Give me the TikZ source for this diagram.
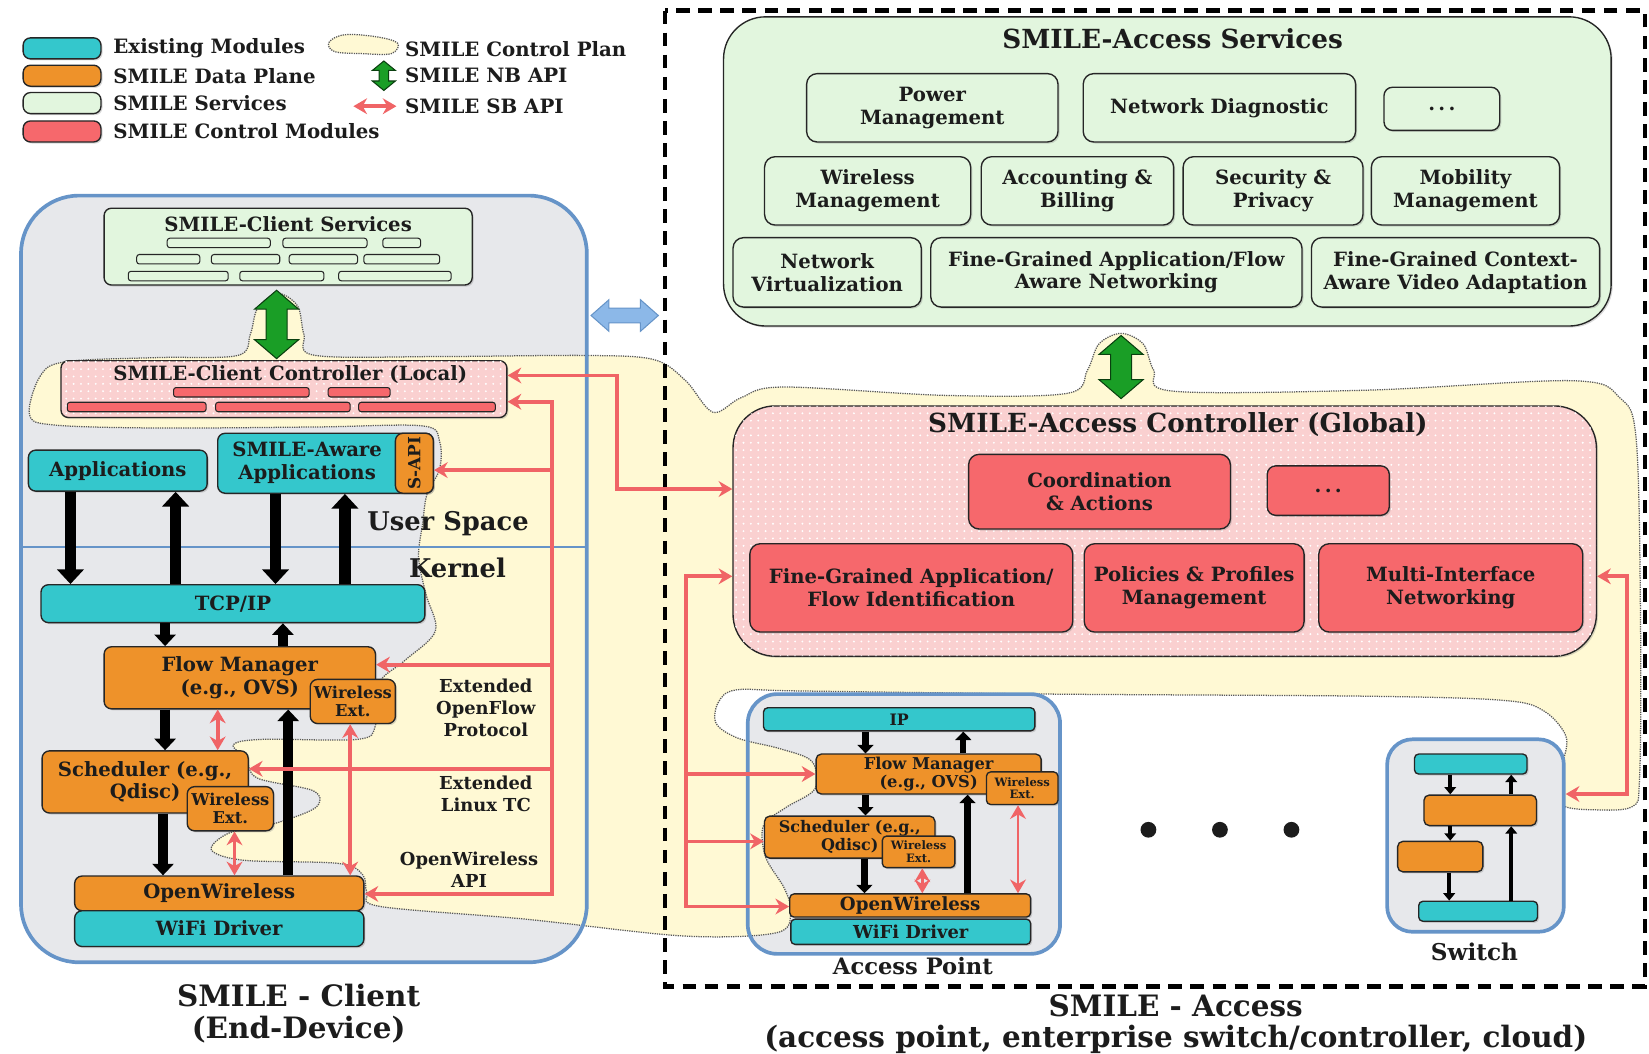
\documentclass[tikz,border=0pt]{standalone}
\usepackage{fontspec}
\setmainfont{DejaVu Serif}
\usetikzlibrary{arrows.meta, positioning, shadows, patterns.meta}
\definecolor{modcyan}{RGB}{52,199,204}
\definecolor{modorange}{RGB}{238,146,42}
\definecolor{svcgreen}{RGB}{226,246,222}
\definecolor{ctlred}{RGB}{246,104,108}
\definecolor{ctlpink}{RGB}{250,208,208}
\definecolor{planeyellow}{RGB}{255,249,212}
\definecolor{devgray}{RGB}{231,232,235}
\definecolor{frameblue}{RGB}{102,148,200}
\definecolor{sbred}{RGB}{240,100,102}
\definecolor{nbgreen}{RGB}{26,158,38}
\definecolor{linkblue}{RGB}{140,184,232}
\definecolor{ink}{RGB}{28,28,28}

\newcommand{\fnt}[2]{\bfseries\fontsize{#1}{#2}\selectfont}
% vertical block double arrow: x, top, bottom, half shaft, half head, head length
\newcommand{\nbarrow}[6]{%
  \filldraw[nbapi] (#1,#2) -- ({#1+#5},{#2+#6}) -- ({#1+#4},{#2+#6}) -- ({#1+#4},{#3-#6})
    -- ({#1+#5},{#3-#6}) -- (#1,#3) -- ({#1-#5},{#3-#6}) -- ({#1-#4},{#3-#6})
    -- ({#1-#4},{#2+#6}) -- ({#1-#5},{#2+#6}) -- cycle;}
% horizontal block double arrow: left, y, right, half shaft, half head, head length
\newcommand{\linkarrow}[6]{%
  \filldraw[linkarr] (#1,#2) -- ({#1+#6},{#2-#5}) -- ({#1+#6},{#2-#4}) -- ({#3-#6},{#2-#4})
    -- ({#3-#6},{#2-#5}) -- (#3,#2) -- ({#3-#6},{#2+#5}) -- ({#3-#6},{#2+#4})
    -- ({#1+#6},{#2+#4}) -- ({#1+#6},{#2+#5}) -- cycle;}

\begin{document}
\begin{tikzpicture}[x=1pt, y=-1pt,
    box/.style={draw=black!85, line width=1.3pt, rounded corners=7pt, inner sep=0pt, align=center, text=ink,
      font=\fnt{18.7}{21.5}, drop shadow={shadow xshift=1.5pt, shadow yshift=-1.5pt, opacity=0.3}},
    existing/.style={box, fill=modcyan},
    dataplane/.style={box, fill=modorange},
    service/.style={box, fill=svcgreen},
    control/.style={box, fill=ctlred},
    ctlplane/.style={box, fill=ctlpink, postaction={pattern={Dots[distance=7pt, radius=1pt]}, pattern color=white}},
    contbox/.style={draw=frameblue, line width=3.5pt, fill=devgray},
    svcbar/.style={draw=black!85, line width=1pt, fill=svcgreen, rounded corners=2.5pt},
    ctlbar/.style={draw=black!85, line width=1pt, fill=ctlred, rounded corners=2.5pt},
    ctlblob/.style={fill=planeyellow, draw=black!65, line width=1.2pt, densely dotted},
    lbl/.style={font=\fnt{18.7}{21.5}, align=center, text=ink, inner sep=0pt},
    sbapi/.style={draw=sbred, line width=3.5pt, >={Stealth[length=13pt, width=15pt]}},
    nbapi/.style={draw=black!60!nbgreen, line width=1pt, fill=nbgreen},
    linkarr/.style={draw=frameblue, line width=1pt, fill=linkblue},
    flowL/.style={draw=black, line width=11pt, -{Triangle[width=25pt, length=14pt]}},
    flowM/.style={draw=black, line width=9pt, -{Triangle[width=20pt, length=11pt]}},
    flowS/.style={draw=black, line width=6pt, -{Triangle[width=15pt, length=8pt]}},
    flowXS/.style={draw=black, line width=4pt, -{Triangle[width=11pt, length=7pt]}}]

\useasboundingbox (0,0) rectangle (1568,1002);

% device containers (fill first, the control plane lies on top)
\fill[devgray, rounded corners=55pt] (20,186) rectangle (558,915);
\fill[devgray, rounded corners=28pt] (711,660) rectangle (1008,907);

% SMILE control plane
\draw[ctlblob] plot[smooth cycle, tension=0.55] coordinates {
  (28,394) (38,358) (62,344) (150,340) (226,338) (238,318) (245,293) (264,279) (283,291)
  (289,318) (300,338) (420,339) (560,338) (622,342) (652,362) (678,392) (705,378) (745,368)
  (900,376) (1015,374) (1034,352) (1045,327) (1066,317) (1087,327) (1097,352) (1116,372)
  (1300,371) (1495,362) (1540,378) (1556,420) (1560,600) (1559,740) (1552,767) (1515,770)
  (1486,766) (1478,748) (1486,725) (1489,700) (1468,676) (1430,666) (1300,662) (1000,660)
  (760,657) (700,656) (683,668) (681,688) (702,702) (742,712) (772,724) (775,750) (747,768)
  (726,785) (728,815) (746,845) (752,868) (738,887) (650,890) (500,874) (362,862) (349,849)
  (345,832) (322,821) (232,818) (201,808) (218,792) (258,784) (300,768) (298,752) (245,740)
  (234,722) (222,708) (250,703) (340,703) (357,690) (360,650) (385,628) (414,600) (405,565)
  (398,530) (402,497) (406,470) (418,446) (418,420) (402,405) (300,406) (150,407) (50,404)};

% container borders
\draw[draw=frameblue, line width=3.5pt, rounded corners=55pt] (20,186) rectangle (558,915);
\draw[draw=frameblue, line width=2.5pt] (20,520) -- (558,520);
\draw[draw=frameblue, line width=3.5pt, rounded corners=28pt] (711,660) rectangle (1008,907);
\draw[black, line width=4pt, dash pattern=on 13pt off 8pt] (632,10) rectangle (1564,938);

% Legend
\node[existing, minimum width=74pt, minimum height=20pt] (lgcyan) at (59,46) {};
\node[dataplane, minimum width=74pt, minimum height=20pt] (lgorange) at (59,72) {};
\node[service, minimum width=74pt, minimum height=20pt] (lggreen) at (59,98) {};
\node[control, minimum width=74pt, minimum height=20pt] (lgred) at (59,125) {};
\node[lbl, font=\fnt{18.8}{22}, anchor=west, right=11pt of lgcyan] (lgcyant) {Existing Modules};
\node[lbl, font=\fnt{18.8}{22}, anchor=west, right=11pt of lgorange] (lgoranget) {SMILE Data Plane};
\node[lbl, font=\fnt{18.8}{22}, anchor=west, right=11pt of lggreen] (lggreent) {SMILE Services};
\node[lbl, font=\fnt{18.8}{22}, anchor=west, right=11pt of lgred] (lgredt) {SMILE Control Modules};
\draw[ctlblob] plot[smooth cycle, tension=0.6] coordinates {(313,40) (328,33) (358,35) (378,41) (372,51) (345,51) (318,49)};
\nbarrow{365}{58}{86}{4.5}{11}{9}
\coordinate (lgsb1) at (336,101);
\coordinate (lgsb2) at (377,101);
\draw[sbapi, <->] (lgsb1) -- (lgsb2);
\node[lbl, font=\fnt{18.8}{22}, anchor=west] (lgcp) at (385,47) {SMILE Control Plan};
\node[lbl, font=\fnt{18.8}{22}, anchor=west] (lgnb) at (385,72) {SMILE NB API};
\node[lbl, font=\fnt{18.8}{22}, anchor=west] (lgsb) at (385,101) {SMILE SB API};

% SMILE-Client
\node[service, minimum width=350pt, minimum height=73pt] (csvc) at (274,234.5) {};
\node[lbl] (csvct) at (274,213) {SMILE-Client Services};
\foreach \a/\b/\y in {159/257/231, 269/349/231, 364/400/231, 130/190/246.5, 201/266/246.5,
    275/340/246.5, 346/418/246.5, 122/217/262.5, 228/308/262.5, 322/429/262.5}
  \draw[svcbar] (\a,\y-4.5) rectangle (\b,\y+4.5);
\nbarrow{263}{276}{341}{10}{21}{18}
\node[ctlplane, minimum width=424pt, minimum height=54pt] (cctl) at (270,370) {};
\node[lbl] (cctlt) at (276,356) {SMILE-Client Controller (Local)};
\foreach \a/\b/\y in {165/294/373, 312/371/373, 64/196/387, 205/333/387, 341/471/387}
  \draw[ctlbar] (\a,\y-4.5) rectangle (\b,\y+4.5);

\node[existing, minimum width=170pt, minimum height=39pt] (apps) at (112,447.5) {Applications};
\node[existing, minimum width=205pt, minimum height=57pt] (aware) at (309.5,440.5) {};
\node[lbl] (awaret) at (292,440) {SMILE-Aware\\Applications};
\node[dataplane, minimum width=36pt, minimum height=57pt] (sapi) at (394,440.5) {};
\node[lbl, rotate=90, font=\fnt{16}{18}] (sapit) at (sapi) {S-API};
\node[lbl, font=\fnt{24.5}{28}] (uspace) at (426,498) {User Space};
\node[lbl, font=\fnt{24.5}{28}] (kernel) at (435,540) {Kernel};

\node[existing, minimum width=365pt, minimum height=36pt] (tcp) at (221.5,574) {TCP/IP};
\node[dataplane, minimum width=258pt, minimum height=59pt] (fm) at (228,644.5) {Flow Manager\\(e.g., OVS)};
\node[dataplane, minimum width=81pt, minimum height=42pt, font=\fnt{15.5}{17}] (wefm) at (335.5,667) {Wireless\\Ext.};
\node[dataplane, minimum width=196pt, minimum height=59pt] (sch) at (138,743.5) {Scheduler (e.g.,\\Qdisc)};
\node[dataplane, minimum width=82pt, minimum height=42pt, font=\fnt{15.5}{17}] (wesch) at (219,769) {Wireless\\Ext.};
\node[dataplane, minimum width=275pt, minimum height=33pt] (ow) at (208.5,849.5) {OpenWireless};
\node[existing, minimum width=275pt, minimum height=34pt] (wifi) at (208.5,883) {WiFi Driver};

\node[lbl, font=\fnt{17}{20.5}] (ofp) at (462,673) {Extended\\OpenFlow\\Protocol};
\node[lbl, font=\fnt{17}{20.5}] (ltc) at (462,755) {Extended\\Linux TC};
\node[lbl, font=\fnt{17}{20.5}] (owapi) at (446,827) {OpenWireless\\API};

% data path (client)
\draw[flowL] ([xshift=-45pt]apps.south) -- ([xshift=-45pt]apps.south |- tcp.north);
\draw[flowL] ([xshift=55pt]apps.south |- tcp.north) -- ([xshift=55pt]apps.south);
\draw[flowL] ([xshift=-47.5pt]aware.south) -- ([xshift=-47.5pt]aware.south |- tcp.north);
\draw[flowL] ([xshift=18.5pt]aware.south |- tcp.north) -- ([xshift=18.5pt]aware.south);
\draw[flowM] ([xshift=-64.5pt]tcp.south) -- ([xshift=-64.5pt]tcp.south |- fm.north);
\draw[flowM] ([xshift=47.5pt]tcp.south |- fm.north) -- ([xshift=47.5pt]tcp.south);
\draw[flowM] ([xshift=-71pt]fm.south) -- ([xshift=-71pt]fm.south |- sch.north);
\draw[flowM] ([xshift=17pt]sch.south) -- ([xshift=17pt]sch.south |- ow.north);
\draw[flowM] ([xshift=65.5pt]ow.north) -- ([xshift=65.5pt]ow.north |- fm.south);
\draw[sbapi, <->] ([xshift=-21pt]fm.south) -- ([xshift=-21pt]fm.south |- sch.north);
\draw[sbapi, <->] ([xshift=-2.5pt]wefm.south) -- ([xshift=-2.5pt]wefm.south |- ow.north);
\draw[sbapi, <->] ([xshift=4pt]wesch.south) -- ([xshift=4pt]wesch.south |- ow.north);

% client SB API bus
\coordinate (cb1) at (525,382);
\coordinate (cb2) at (525,447);
\coordinate (cb3) at (525,632);
\coordinate (cb4) at (525,731);
\coordinate (cb5) at (525,850);
\draw[sbapi, <->] (cctl.east |- cb1) -- (cb1) -- (cb5) -- (ow.east |- cb5);
\draw[sbapi, ->] (cb2) -- (sapi.east |- cb2);
\draw[sbapi, ->] (cb3) -- (fm.east |- cb3);
\draw[sbapi, ->] (cb4) -- (sch.east |- cb4);

\linkarrow{562}{300}{626}{7}{15}{17}

% SMILE-Access services
\node[service, rounded corners=40pt, minimum width=844pt, minimum height=294pt] (asvc) at (1110,163) {};
\node[lbl, font=\fnt{25}{28}] (asvct) at (1115,37) {SMILE-Access Services};
\node[service, rounded corners=10pt, minimum width=239pt, minimum height=65pt] (pwr) at (886.5,102.5) {Power\\Management};
\node[service, rounded corners=10pt, minimum width=259pt, minimum height=65pt] (diag) at (1159.5,102.5) {Network Diagnostic};
\node[service, rounded corners=8pt, minimum width=110pt, minimum height=41pt] (sdots) at (1371,103.5) {.\,.\,.};
\node[service, rounded corners=10pt, minimum width=196pt, minimum height=65pt] (wlm) at (825,181.5) {Wireless\\Management};
\node[service, rounded corners=10pt, minimum width=183pt, minimum height=65pt] (acct) at (1024.5,181.5) {Accounting \&\\Billing};
\node[service, rounded corners=10pt, minimum width=171pt, minimum height=65pt] (secu) at (1210.5,181.5) {Security \&\\Privacy};
\node[service, rounded corners=10pt, minimum width=179pt, minimum height=65pt] (mobi) at (1393.5,181.5) {Mobility\\Management};
\node[service, rounded corners=10pt, minimum width=179pt, minimum height=66pt] (nvirt) at (786.5,259) {Network\\Virtualization};
\node[service, rounded corners=10pt, minimum width=353pt, minimum height=66pt] (fgnet) at (1061.5,259) {Fine-Grained Application/Flow\\Aware Networking};
\node[service, rounded corners=10pt, minimum width=274pt, minimum height=66pt] (fgvid) at (1384,259) {Fine-Grained Context-\\Aware Video Adaptation};

\nbarrow{1066}{319}{379}{10}{21}{18}

% SMILE-Access controller
\node[ctlplane, rounded corners=40pt, minimum width=821pt, minimum height=238pt] (actl) at (1107.5,505) {};
\node[lbl, font=\fnt{25}{28}] (actlt) at (1120,404) {SMILE-Access Controller (Global)};
\node[control, rounded corners=10pt, minimum width=249pt, minimum height=71pt] (coord) at (1045.5,467.5) {Coordination\\\& Actions};
\node[control, rounded corners=8pt, minimum width=116pt, minimum height=47pt] (cdots) at (1263,466.5) {.\,.\,.};
\node[control, rounded corners=10pt, minimum width=307pt, minimum height=84pt] (fgid) at (866.5,559) {Fine-Grained Application/\\Flow Identification};
\node[control, rounded corners=10pt, minimum width=209pt, minimum height=84pt] (ppm) at (1135.5,559) {Policies \& Profiles\\Management};
\node[control, rounded corners=10pt, minimum width=251pt, minimum height=84pt] (mif) at (1379.5,559) {Multi-Interface\\Networking};

\coordinate (gl1) at (587,357);
\coordinate (gl2) at (587,465);
\draw[sbapi, <->] (cctl.east |- gl1) -- (gl1) -- (gl2) -- (actl.west |- gl2);

% Access point
\node[existing, rounded corners=4pt, minimum width=258pt, minimum height=22pt, font=\fnt{15}{17}] (apip) at (855,684) {IP};
\node[dataplane, rounded corners=5pt, minimum width=214pt, minimum height=38pt, font=\fnt{15.5}{17}] (apfm) at (883,736) {Flow Manager\\(e.g., OVS)};
\node[dataplane, rounded corners=4pt, minimum width=68pt, minimum height=31pt, font=\fnt{11}{12}] (apwe1) at (972,749.5) {Wireless\\Ext.};
\node[dataplane, rounded corners=5pt, minimum width=162pt, minimum height=40pt, font=\fnt{15.2}{17}] (apsch) at (808,796) {Scheduler (e.g.,\\Qdisc)};
\node[dataplane, rounded corners=4pt, minimum width=69pt, minimum height=30pt, font=\fnt{11}{12}] (apwe2) at (873.5,810) {Wireless\\Ext.};
\node[dataplane, rounded corners=4pt, minimum width=229pt, minimum height=22pt, font=\fnt{17.3}{19}] (apow) at (865.5,861) {OpenWireless};
\node[existing, rounded corners=4pt, minimum width=228pt, minimum height=24pt, font=\fnt{17}{19}] (apwifi) at (866,886) {WiFi Driver};
\node[lbl, font=\fnt{21.5}{24}] (aplbl) at (868,919) {Access Point};

\draw[flowS] ([xshift=-32pt]apip.south) -- ([xshift=-32pt]apip.south |- apfm.north);
\draw[flowS] ([xshift=61pt]apip.south |- apfm.north) -- ([xshift=61pt]apip.south);
\draw[flowS] ([xshift=-60pt]apfm.south) -- ([xshift=-60pt]apfm.south |- apsch.north);
\draw[flowS] ([xshift=14pt]apsch.south) -- ([xshift=14pt]apsch.south |- apow.north);
\draw[flowS] ([xshift=54.5pt]apow.north) -- ([xshift=54.5pt]apow.north |- apfm.south);
\draw[sbapi, <->, line width=2.5pt] ([xshift=3.5pt]apwe2.south) -- ([xshift=3.5pt]apwe2.south |- apow.north);
\draw[sbapi, <->, line width=2.5pt] ([xshift=-4pt]apwe1.south) -- ([xshift=-4pt]apwe1.south |- apow.north);

\coordinate (ab1) at (652,548);
\coordinate (ab2) at (652,736);
\coordinate (ab3) at (652,800);
\coordinate (ab4) at (652,862);
\draw[sbapi, <->] (actl.west |- ab1) -- (ab1) -- (ab4) -- (apow.west |- ab4);
\draw[sbapi, ->] (ab2) -- (apfm.west |- ab2);
\draw[sbapi, ->] (ab3) -- (apsch.west |- ab3);

% more devices
\fill[ink] (1092,789) circle[radius=7.5pt] (1160,789) circle[radius=7.5pt] (1228,789) circle[radius=7.5pt];

% Switch
\node[contbox, rounded corners=24pt, minimum width=168pt, minimum height=183pt] (swbox) at (1403,794.5) {};
\node[existing, rounded corners=4pt, minimum width=107pt, minimum height=19pt] (sw1) at (1398.5,726.5) {};
\node[dataplane, rounded corners=5pt, minimum width=107pt, minimum height=29pt] (sw2) at (1407.5,770.5) {};
\node[dataplane, rounded corners=5pt, minimum width=81pt, minimum height=29pt] (sw3) at (1369.5,814.5) {};
\node[existing, rounded corners=4pt, minimum width=113pt, minimum height=19pt] (sw4) at (1405.5,866.5) {};
\node[lbl, font=\fnt{22}{24}] (swlbl) at (1402,905) {Switch};
\draw[flowXS] ([xshift=-19.5pt]sw1.south) -- ([xshift=-19.5pt]sw1.south |- sw2.north);
\draw[flowXS] ([xshift=38.5pt]sw1.south |- sw2.north) -- ([xshift=38.5pt]sw1.south);
\draw[flowXS] ([xshift=-28.5pt]sw2.south) -- ([xshift=-28.5pt]sw2.south |- sw3.north);
\draw[flowXS] ([xshift=8.5pt]sw3.south) -- ([xshift=8.5pt]sw3.south |- sw4.north);
\draw[flowXS] ([xshift=31.5pt]sw4.north) -- ([xshift=31.5pt]sw4.north |- sw2.south);

\coordinate (rr1) at (1547,548);
\coordinate (rr2) at (1547,755);
\draw[sbapi, <->] (actl.east |- rr1) -- (rr1) -- (rr2) -- (swbox.east |- rr2);

% captions
\node[lbl, font=\fnt{28}{30}] (cclient) at (284,964) {SMILE - Client\\(End-Device)};
\node[lbl, font=\fnt{28}{30}] (caccess) at (1118,974) {SMILE - Access\\(access point, enterprise switch/controller, cloud)};
\end{tikzpicture}
\end{document}
